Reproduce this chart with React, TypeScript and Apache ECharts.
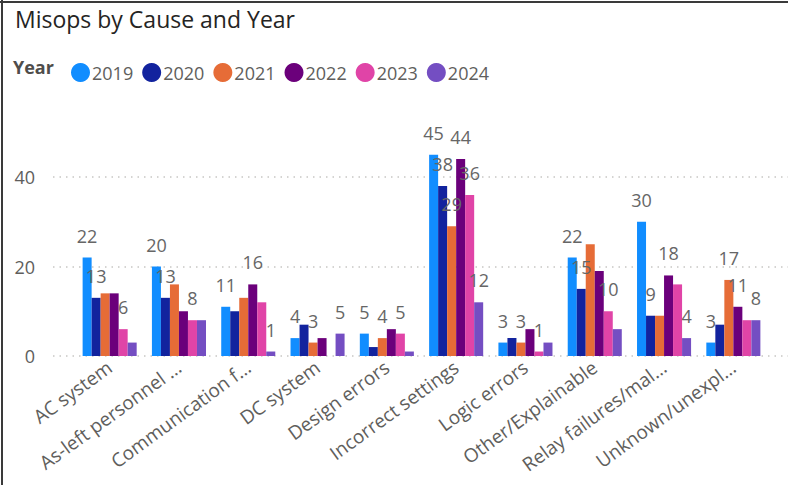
import React, { useEffect, useRef } from "react";
import * as echarts from "echarts";

const categories = [
  "AC system",
  "As-left personnel …",
  "Communication f…",
  "DC system",
  "Design errors",
  "Incorrect settings",
  "Logic errors",
  "Other/Explainable",
  "Relay failures/mal…",
  "Unknown/unexpl…",
];

const years = ["2019", "2020", "2021", "2022", "2023", "2024"];

const y2019 = [22, 20, 11, 4, 5, 45, 3, 22, 30, 3];
const y2020 = [13, 13, 10, 7, 2, 38, 4, 15, 9, 7];
const y2021 = [14, 16, 13, 3, 4, 29, 3, 25, 9, 17];
const y2022 = [14, 10, 16, 4, 6, 44, 6, 19, 18, 11];
const y2023 = [6, 8, 12, 0, 5, 36, 1, 10, 16, 8];
const y2024 = [3, 8, 1, 5, 1, 12, 3, 6, 4, 8];

// which data labels are visible (Power BI hides overlapping ones)
const show2019 = [1, 1, 1, 1, 1, 1, 1, 1, 1, 1];
const show2020 = [1, 1, 0, 0, 0, 1, 0, 1, 1, 0];
const show2021 = [0, 0, 0, 1, 1, 1, 1, 0, 0, 1];
const show2022 = [0, 0, 1, 0, 0, 1, 0, 0, 1, 1];
const show2023 = [1, 1, 0, 0, 1, 1, 1, 1, 0, 0];
const show2024 = [0, 0, 1, 1, 0, 1, 0, 0, 1, 1];

const yTicks = [0, 20, 40];

const colors = ["#118DFF", "#12239E", "#E66C37", "#6B007B", "#E044A7", "#744EC2"];

const FONT = "'Segoe UI', 'Open Sans', sans-serif";

export default function App() {
  const ref = useRef<HTMLDivElement>(null);

  useEffect(() => {
    document.body.style.margin = "0";
    if (!ref.current) return;
    const chart = echarts.init(ref.current, undefined, { renderer: "svg" });

    const values = [y2019, y2020, y2021, y2022, y2023, y2024];
    const shows = [show2019, show2020, show2021, show2022, show2023, show2024];

    const series: any[] = years.map((yr, si) => ({
      name: yr,
      type: "bar",
      xAxisIndex: 0,
      yAxisIndex: 0,
      barGap: "0%",
      barCategoryGap: "22%",
      itemStyle: { color: colors[si] },
      label: {
        position: "top",
        distance: 13,
        color: "#666666",
        fontSize: 18,
        fontFamily: FONT,
      },
      data: values[si].map((v, i) => ({
        value: v,
        label: { show: !!shows[si][i] && v > 0 },
      })),
    }));

    const yMax = 60;

    chart.setOption({
      animation: false,
      color: colors,
      title: {
        text: "Misops by Cause and Year",
        left: 10,
        top: 2,
        textStyle: {
          fontFamily: FONT,
          fontSize: 23,
          fontWeight: "normal",
          color: "#252423",
        },
      },
      legend: {
        left: 66,
        top: 58,
        icon: "circle",
        itemWidth: 19,
        itemHeight: 19,
        itemGap: 9,
        data: years,
        textStyle: {
          fontFamily: FONT,
          fontSize: 18,
          color: "#605E5C",
          padding: [0, 0, 0, -3],
        },
      },
      graphic: [
        {
          type: "text",
          left: 13,
          top: 58,
          style: {
            text: "Year",
            fontFamily: FONT,
            fontSize: 18,
            fontWeight: "bold",
            fill: "#4f4d4b",
          },
        },
        {
          type: "line",
          shape: { x1: 0, y1: 2, x2: 788, y2: 2 },
          style: { stroke: "#3a3a3a", lineWidth: 2 },
        },
        {
          type: "line",
          shape: { x1: 2, y1: 0, x2: 2, y2: 485 },
          style: { stroke: "#3a3a3a", lineWidth: 2 },
        },
      ],
      grid: [
        { left: 75, right: 20, top: 87.5, bottom: 129 },
        { left: 53, right: 0, top: 87.5, bottom: 129 },
      ],
      xAxis: [
        {
          type: "category",
          gridIndex: 0,
          data: categories,
          axisLine: { show: false },
          axisTick: { show: false },
          axisLabel: {
            rotate: 36,
            interval: 0,
            margin: 9,
            fontFamily: FONT,
            fontSize: 19,
            color: "#605E5C",
          },
        },
        {
          type: "value",
          gridIndex: 1,
          show: false,
        },
      ],
      yAxis: [
        {
          type: "value",
          gridIndex: 0,
          min: 0,
          max: yMax,
          interval: 20,
          show: false,
          splitLine: { show: false },
        },
        {
          type: "value",
          gridIndex: 1,
          min: 0,
          max: yMax,
          interval: 20,
          axisLine: { show: false },
          axisTick: { show: false },
          axisLabel: {
            margin: 18,
            fontFamily: FONT,
            fontSize: 18,
            color: "#605E5C",
            formatter: (v: number) => (yTicks.includes(v) ? String(v) : ""),
          },
          splitLine: {
            show: true,
            lineStyle: {
              color: ["#c8c6c4", "#c8c6c4", "#c8c6c4", "rgba(0,0,0,0)"],
              type: [1.5, 5],
              width: 1.5,
            },
          },
        },
      ],
      series,
    });

    return () => chart.dispose();
  }, []);

  return (
    <div
      ref={ref}
      style={{ position: "absolute", left: 0, top: 0, width: 788, height: 485, background: "#fff" }}
    />
  );
}
